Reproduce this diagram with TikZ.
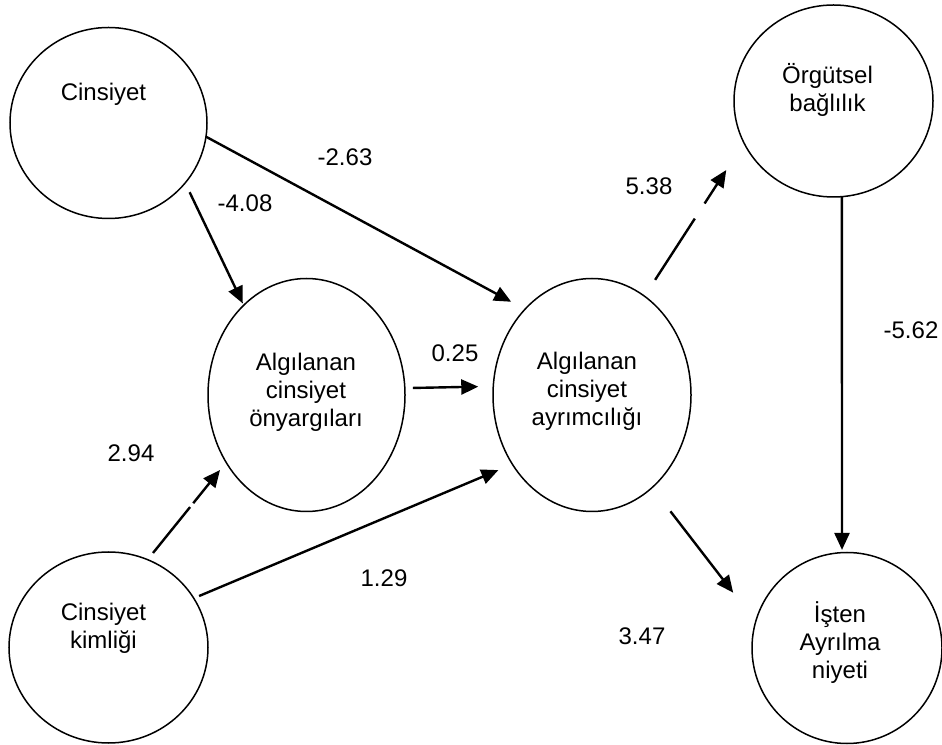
\documentclass[tikz,border=0pt]{standalone}
\usepackage{fontspec}
\setmainfont{Liberation Sans}
\usetikzlibrary{shapes.geometric,arrows.meta}
\begin{document}
\begin{tikzpicture}[x=1pt,y=1pt,
  bubble/.style={ellipse, draw, line width=1.5pt, inner sep=0pt, outer sep=0pt},
  lbl/.style={font=\fontsize{24}{28}\selectfont, align=center, inner sep=0pt},
  num/.style={font=\fontsize{24}{28}\selectfont, inner sep=0pt},
  arr/.style={line width=2.4pt, -{Triangle[length=17pt,width=15pt]}},
]
\useasboundingbox (0,0) rectangle (942,744);
% nodes
\node[bubble, minimum width=197pt, minimum height=191pt] (cin) at (108.5,621) {};
\node[bubble, minimum width=199pt, minimum height=191pt] (kim) at (108.5,96.5) {};
\node[bubble, minimum width=197pt, minimum height=233pt] (ony) at (306.5,349) {};
\node[bubble, minimum width=198pt, minimum height=233pt] (ayr) at (592,349) {};
\node[bubble, minimum width=199pt, minimum height=192pt] (org) at (833.5,643) {};
\node[bubble, minimum width=190pt, minimum height=191pt] (isten) at (847,96) {};
% texts
\node[lbl] (tcin) at (103.5,650) {Cinsiyet};
\node[lbl] (tkim) at (103.5,116) {Cinsiyet\\kimliği};
\node[lbl] (tony) at (306,352) {Algılanan\\cinsiyet\\önyargıları};
\node[lbl] (tayr) at (587,353) {Algılanan\\cinsiyet\\ayrımcılığı};
\node[lbl] (torg) at (827.5,654) {Örgütsel\\bağlılık};
\node[lbl] (tist) at (840,101) {İşten\\Ayrılma\\niyeti};
% connectors
\draw[arr, shorten <=10.3pt, shorten >=2pt] (cin.-38.6) -- (ony.125);
\draw[arr, shorten >=15.7pt] (cin.-8.1) -- (ayr.128.2);
\draw[arr, shorten <=8pt, shorten >=15pt] (ony.4.65) -- (ayr.175.4);
\draw[arr, shorten <=8.6pt, shorten >=9.8pt, dash pattern=on 59pt off 5pt on 300pt] (kim.66) -- (ony.220);
\draw[arr, shorten <=5.8pt, shorten >=15.2pt] (kim.30.1) -- (ayr.221.6);
\draw[arr, shorten <=19.5pt, shorten >=32.5pt, dash pattern=on 73pt off 18pt on 300pt] (ayr.62.8) -- (org.205.1);
\draw[arr, shorten <=30pt, shorten >=36.8pt] (ayr.-57.4) -- (isten.164.1);
\draw[arr, shorten >=2.7pt] (org.-85.5) -- (isten.93.6);
% coefficients
\node[num] (n1) at (345,587) {-2.63};
\node[num] (n2) at (245,541) {-4.08};
\node[num] (n3) at (455,391) {0.25};
\node[num] (n4) at (649,558) {5.38};
\node[num] (n5) at (911,414) {-5.62};
\node[num] (n6) at (131,291) {2.94};
\node[num] (n7) at (384,166) {1.29};
\node[num] (n8) at (642,108) {3.47};
\end{tikzpicture}
\end{document}
